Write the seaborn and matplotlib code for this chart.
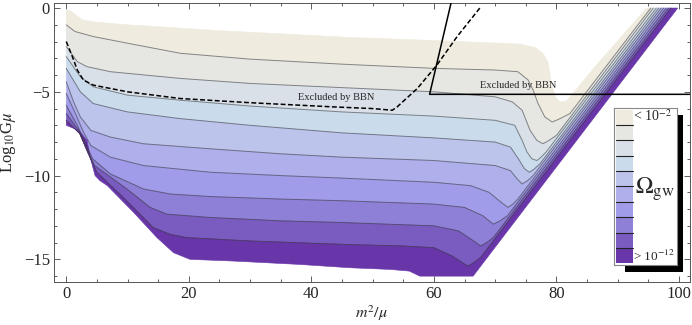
import matplotlib
matplotlib.use("Agg")
import matplotlib.pyplot as plt
import seaborn as sns
from matplotlib.patches import Rectangle
from matplotlib.ticker import MultipleLocator

sns.set_theme(style="white")
plt.rcParams["font.family"] = ["Liberation Serif", "DejaVu Serif"]
plt.rcParams["mathtext.fontset"] = "stix"

# contour edges: x = m^2/mu, y = log10 G mu
TOP_X = [0, 0.8, 1.5, 2.6, 5, 10, 16.5, 25, 32.8, 46, 61, 74, 76.5, 77.8, 78.6, 79.2, 79.8, 80.6, 81.6, 82.6, 86.3, 94.7]
TOP_Y = [-0.1, -0.2, -0.4, -0.7, -0.85, -1.0, -1.15, -1.35, -1.5, -1.75, -1.95, -2.15, -2.35, -2.7, -3.2, -4.5, -5.3, -5.6, -5.55, -5.15, -3.5, 0.0]

L1_X = [0, 1.4, 4.4, 10, 18.6, 30, 45, 60, 70, 73.7, 75.4, 76.2, 77, 78.1, 79.3, 80.3, 82.2, 95.4]
L1_Y = [-1.0, -1.4, -1.7, -2.1, -2.7, -3.05, -3.35, -3.6, -3.7, -3.8, -4.3, -4.9, -5.7, -6.5, -6.8, -6.65, -6.3, 0.0]

L2_X = [0, 1.8, 3.4, 7.2, 18.6, 30, 45, 60, 70, 72.8, 74.4, 75.7, 76.8, 77.8, 78.8, 80.0, 95.8]
L2_Y = [-2.3, -3.2, -3.5, -3.8, -4.2, -4.5, -4.75, -5.0, -5.3, -5.6, -6.1, -7.3, -7.9, -8.1, -7.9, -7.6, 0.0]

L3_X = [0, 2.3, 4.4, 10, 18.6, 30, 45, 60, 70, 73.2, 74.4, 75.2, 76, 76.8, 77.5, 78.3, 96.3]
L3_Y = [-2.9, -4.1, -4.7, -5.2, -5.5, -5.85, -6.2, -6.45, -6.7, -7.0, -7.9, -8.6, -9.0, -9.1, -8.9, -8.6, 0.0]

L4_X = [0, 2.3, 4.4, 10, 18.6, 30, 45, 60, 70, 72.5, 73.8, 74.8, 75.6, 76.4, 77.3, 96.7]
L4_Y = [-3.6, -5.0, -5.7, -6.2, -6.6, -7.0, -7.45, -7.75, -8.0, -8.3, -9.0, -9.6, -9.8, -9.6, -9.3, 0.0]

L5_X = [0, 1.2, 2.3, 4, 7.2, 12.6, 23.5, 35, 45, 60, 70, 72.5, 73.6, 74.4, 75.3, 76.2, 97.1]
L5_Y = [-4.4, -5.6, -6.5, -7.3, -7.7, -8.1, -8.4, -8.7, -8.9, -9.1, -9.4, -9.7, -10.2, -10.5, -10.3, -10.0, 0.0]

L6_X = [0, 1.5, 2.8, 4, 7.2, 12.6, 23.5, 35, 45, 60, 66, 69, 71, 72.1, 72.9, 73.7, 97.5]
L6_Y = [-5.1, -6.3, -7.4, -8.2, -8.9, -9.4, -9.8, -10.0, -10.15, -10.4, -10.6, -11.0, -11.6, -11.9, -11.7, -11.4, 0.0]

L7_X = [0, 1.8, 3.2, 4.3, 7.2, 12.6, 17, 23.5, 35, 45, 60, 65, 68, 69.7, 70.8, 72.0, 97.9]
L7_Y = [-5.8, -7.0, -8.1, -9.0, -9.9, -10.8, -11.1, -11.25, -11.4, -11.5, -11.7, -11.9, -12.4, -12.9, -12.7, -12.4, 0.0]

L8_X = [0, 2, 3.5, 4.6, 9.9, 13.7, 16.4, 23.5, 35, 45, 60, 64, 66.5, 67.6, 68.6, 69.7, 98.3]
L8_Y = [-6.3, -7.3, -8.5, -9.4, -10.8, -11.9, -12.3, -12.5, -12.7, -12.8, -13.0, -13.3, -13.9, -14.2, -14.0, -13.7, 0.0]

L9_X = [0, 2.2, 3.6, 5, 9.3, 14.2, 16.9, 19.7, 30, 45, 55, 60, 63, 65.5, 66.5, 67.6, 98.7]
L9_Y = [-6.7, -7.5, -8.7, -9.8, -11.3, -13.1, -13.5, -13.7, -13.9, -14.1, -14.2, -14.3, -14.8, -15.4, -15.2, -14.9, 0.0]

BOTTOM_X = [0, 2, 3.4, 3.9, 4.7, 5.5, 6.7, 11, 14.8, 17.5, 20.2, 27.3, 38, 46.3, 52.9, 56, 57.7, 66.4, 99.8]
BOTTOM_Y = [-7.0, -7.3, -7.9, -8.9, -10.0, -10.3, -10.6, -12.2, -13.7, -14.6, -15.0, -15.1, -15.3, -15.5, -15.6, -15.7, -16.0, -16.0, 0.0]

# BBN bound (dashed) and excluded corner (solid)
DASH_X = [0, 1, 1.8, 2.8, 4.4, 10, 18.6, 30, 43.6, 50, 53.2, 54, 57.3, 60.5, 63.8, 67.5]
DASH_Y = [-2.0, -2.9, -3.7, -4.3, -4.6, -5.0, -5.4, -5.65, -5.9, -6.0, -6.1, -5.9, -4.8, -3.4, -1.7, 0.0]
BBN_X = [62.8, 59.3, 102]
BBN_Y = [0.3, -5.15, -5.15]

COLORS = ["#EFEBDF", "#E6E6E3", "#D9E0E7", "#CADCEB", "#BCC4EC", "#AEAFEB",
          "#A09CE9", "#8E80D7", "#7A5CC1", "#6836A9"]
LEGEND_TOP = "< 10$^{-2}$"
LEGEND_BOTTOM = "> 10$^{-12}$"

curves = [(TOP_X, TOP_Y), (L1_X, L1_Y), (L2_X, L2_Y), (L3_X, L3_Y), (L4_X, L4_Y),
          (L5_X, L5_Y), (L6_X, L6_Y), (L7_X, L7_Y), (L8_X, L8_Y), (L9_X, L9_Y),
          (BOTTOM_X, BOTTOM_Y)]

fig = plt.figure(figsize=(6.92, 3.25), dpi=100)
ax = fig.add_axes([54 / 692, 43 / 325, 636 / 692, 279 / 325])
ax.set_zorder(0)

# filled bands between consecutive contour edges
for i, col in enumerate(COLORS):
    (xa, ya), (xb, yb) = curves[i], curves[i + 1]
    ax.fill(list(xa) + list(xb)[::-1], list(ya) + list(yb)[::-1],
            facecolor=col, edgecolor=col, lw=0.4, zorder=1)

# contour lines
for xs, ys in curves[1:-1]:
    sns.lineplot(x=xs, y=ys, sort=False, estimator=None, color="#333333",
                 alpha=0.55, lw=0.7, ax=ax, zorder=2)

sns.lineplot(x=DASH_X, y=DASH_Y, sort=False, estimator=None, color="black",
             lw=1.1, ax=ax, zorder=3, dashes=False, linestyle=(0, (3.2, 1.6)))
sns.lineplot(x=BBN_X, y=BBN_Y, sort=False, estimator=None, color="black",
             lw=1.1, ax=ax, zorder=3)

ax.text(44, -5.35, "Excluded by BBN", fontsize=7.5, ha="center", va="center", zorder=4)
ax.text(73.7, -4.6, "Excluded by BBN", fontsize=7.5, ha="center", va="center", zorder=4)

ax.set_xlim(-2, 101.8)
ax.set_ylim(-16.35, 0.3)
ax.xaxis.set_major_locator(MultipleLocator(20))
ax.xaxis.set_minor_locator(MultipleLocator(5))
ax.yaxis.set_major_locator(MultipleLocator(5))
ax.yaxis.set_minor_locator(MultipleLocator(1))
ax.tick_params(which="both", direction="in", bottom=True, top=True, left=True, right=True,
               color="#444444", width=0.6, labelsize=12, pad=3)
ax.tick_params(which="major", length=4)
ax.tick_params(which="minor", length=2)
for s in ax.spines.values():
    s.set_color("#555555")
    s.set_linewidth(0.7)
ax.set_xlabel(r"$m^2/\mu$", fontsize=11.5, labelpad=1)
ax.set_ylabel(r"Log$_{10}$G$\mu$", fontsize=12, labelpad=4)

# legend with drop shadow
shadow = Rectangle((625 / 692, 53 / 325), 58 / 692, 157 / 325, transform=fig.transFigure,
                   facecolor="black", edgecolor="none", zorder=0.5)
fig.patches.append(shadow)
lax = fig.add_axes([614 / 692, 60 / 325, 63 / 692, 157 / 325])
lax.set_zorder(1)
lax.set_facecolor("white")
rows = list(range(len(COLORS)))
lax.barh([9.5 - r for r in rows], [0.27] * len(rows), left=0.025, height=1.0,
         color=COLORS, edgecolor="none")
for r in range(1, len(COLORS)):
    lax.plot([0.025, 0.295], [r, r], color="#222222", lw=0.8)
lax.set_xlim(0, 1)
lax.set_ylim(-0.1, 10.1)
lax.set_xticks([])
lax.set_yticks([])
for s in lax.spines.values():
    s.set_color("#888888")
    s.set_linewidth(0.8)
lax.text(0.3, 9.55, LEGEND_TOP, fontsize=10, va="center")
lax.text(0.3, 0.45, LEGEND_BOTTOM, fontsize=9.5, va="center")
lax.text(0.33, 4.85, r"$\Omega_{\mathrm{gw}}$", fontsize=17, va="center")

fig.savefig("out.png", dpi=100)
